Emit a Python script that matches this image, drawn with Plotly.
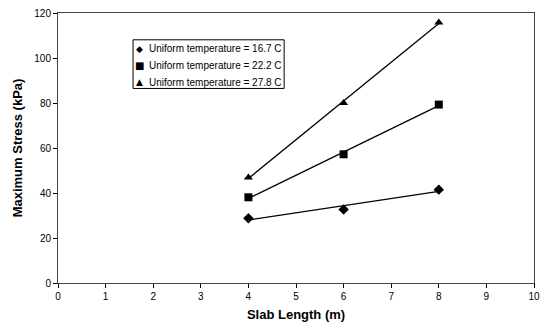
import numpy as np
import plotly.graph_objects as go

slab_length = [4, 6, 8]
stress_167 = [28.8, 32.7, 41.5]
stress_222 = [38.1, 57.2, 79.3]
stress_278 = [46.9, 80.0, 115.8]
names = ["Uniform temperature = 16.7 C", "Uniform temperature = 22.2 C", "Uniform temperature = 27.8 C"]
symbols = ["diamond", "square", "triangle-up"]
glyphs = ["\u25C6", "\u25A0", "\u25B2"]
x_ticks = list(range(0, 11))
y_ticks = list(range(0, 121, 20))

FONT = "Liberation Sans, Arial"
L, R, T, B = 58, 7, 11, 46
W, H = 547, 329
PW, PH = W - L - R, H - T - B

def px(x):
    return (x - L) / PW

def py(y):
    return (H - B - y) / PH

fig = go.Figure()
for vals, name, sym in zip([stress_167, stress_222, stress_278], names, symbols):
    coef = np.polyfit(slab_length, vals, 1)
    xs = np.array([slab_length[0], slab_length[-1]])
    fig.add_trace(go.Scatter(x=xs, y=np.polyval(coef, xs), mode="lines",
                             line=dict(color="black", width=1.3), showlegend=False, hoverinfo="skip"))
    fig.add_trace(go.Scatter(x=slab_length, y=vals, mode="markers", name=name, showlegend=False,
                             marker=dict(symbol=sym, size=8, color="black")))

# custom legend
fig.add_shape(type="rect", xref="paper", yref="paper", x0=px(134), x1=px(287), y0=py(38), y1=py(87),
              line=dict(color="black", width=1), fillcolor="white", layer="above")
for i, (name, g) in enumerate(zip(names, glyphs)):
    yy = py(47 + i * 17)
    fig.add_annotation(xref="paper", yref="paper", x=px(141), y=yy, text=g, showarrow=False,
                       xanchor="center", yanchor="middle",
                       font=dict(family="DejaVu Sans", size=9 if i != 1 else 10, color="black"))
    fig.add_annotation(xref="paper", yref="paper", x=px(148), y=yy, text=name, showarrow=False,
                       xanchor="left", yanchor="middle",
                       font=dict(family=FONT, size=10, color="black"))

axis_common = dict(showgrid=False, zeroline=False, showline=True, mirror=True,
                   linecolor="#444", linewidth=1, ticks="outside", ticklen=4, tickcolor="black",
                   tickfont=dict(family=FONT, size=10, color="black"))
fig.update_xaxes(range=[0, 10], tickvals=x_ticks, title=dict(text="<b>Slab Length (m)</b>",
                 font=dict(family=FONT, size=13, color="black"), standoff=8), **axis_common)
fig.update_yaxes(range=[0, 120], tickvals=y_ticks, title=dict(text="<b>Maximum Stress (kPa)</b>",
                 font=dict(family=FONT, size=13, color="black"), standoff=8), **axis_common)

fig.update_layout(
    width=W, height=H,
    margin=dict(l=L, r=R, t=T, b=B),
    paper_bgcolor="white", plot_bgcolor="white",
    showlegend=False,
)
fig.write_html("out.html")
